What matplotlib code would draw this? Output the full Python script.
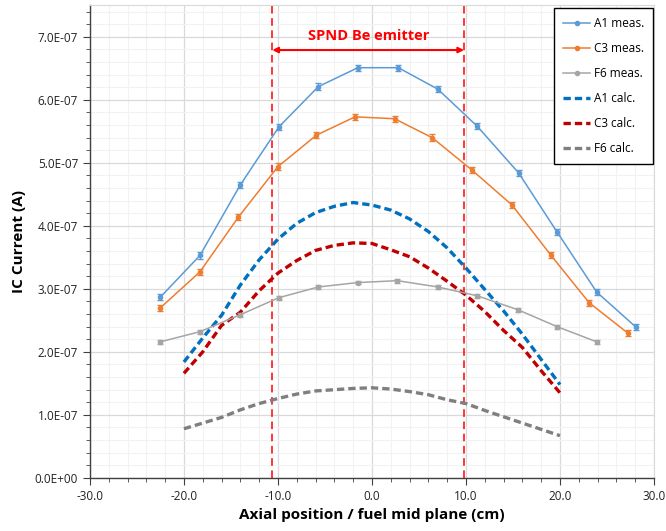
import numpy as np
import matplotlib
matplotlib.use("Agg")
import matplotlib.pyplot as plt
from matplotlib.lines import Line2D
from matplotlib.ticker import MultipleLocator, FuncFormatter

plt.rcParams["font.family"] = ["Open Sans", "DejaVu Sans"]

# ---------- data (current in units of 1e-7 A) ----------
a1_x = [-22.5, -18.3, -14.0, -9.9, -5.7, -1.5, 2.8, 7.0, 11.2, 15.6, 19.7, 23.9, 28.1]
a1_y = [2.87, 3.53, 4.65, 5.57, 6.21, 6.51, 6.51, 6.17, 5.58, 4.84, 3.90, 2.95, 2.39]

c3_x = [-22.5, -18.3, -14.2, -10.0, -5.9, -1.8, 2.4, 6.4, 10.6, 14.9, 19.0, 23.1, 27.2]
c3_y = [2.70, 3.27, 4.14, 4.94, 5.44, 5.73, 5.70, 5.40, 4.89, 4.33, 3.54, 2.78, 2.30]

f6_x = [-22.5, -18.3, -14.0, -9.9, -5.7, -1.5, 2.7, 7.0, 11.2, 15.5, 19.7, 23.9]
f6_y = [2.16, 2.32, 2.59, 2.86, 3.03, 3.10, 3.13, 3.03, 2.89, 2.67, 2.40, 2.16]

calc_x = [-20, -18, -16, -14, -12, -10, -8, -6, -4, -2, 0,
          2, 4, 6, 8, 10, 12, 14, 16, 18, 20]
a1_calc = [1.84, 2.22, 2.58, 3.06, 3.46, 3.79, 4.04, 4.21, 4.31, 4.37, 4.33,
           4.25, 4.11, 3.91, 3.65, 3.33, 2.99, 2.65, 2.28, 1.88, 1.48]
c3_calc = [1.66, 2.00, 2.42, 2.63, 2.97, 3.25, 3.45, 3.61, 3.69, 3.73, 3.72,
           3.62, 3.51, 3.33, 3.12, 2.90, 2.64, 2.34, 2.07, 1.70, 1.35]
f6_calc = [0.78, 0.87, 0.96, 1.08, 1.18, 1.26, 1.33, 1.38, 1.40, 1.42, 1.43,
           1.41, 1.37, 1.32, 1.24, 1.18, 1.07, 0.97, 0.87, 0.77, 0.67]

meas_err = 0.05
f6_err = 0.03
emitter_lo, emitter_hi = -10.6, 9.8

scale = 1e-7


def sc(v):
    return np.array(v) * scale


fig = plt.figure(figsize=(6.66, 5.31), dpi=100)
ax = fig.add_axes([0.135, 0.1, 0.847, 0.89])

# gridlines
ax.xaxis.set_major_locator(MultipleLocator(10))
ax.xaxis.set_minor_locator(MultipleLocator(2))
ax.yaxis.set_major_locator(MultipleLocator(1e-7))
ax.yaxis.set_minor_locator(MultipleLocator(2e-8))
ax.grid(True, which="major", color="#d9d9d9", lw=0.9, zorder=0)
ax.grid(True, which="minor", color="#f2f2f2", lw=0.8, zorder=0)
ax.set_axisbelow(True)

meas = [("A1 meas.", a1_x, a1_y, meas_err, "#5b9bd5"),
        ("C3 meas.", c3_x, c3_y, meas_err, "#ed7d31"),
        ("F6 meas.", f6_x, f6_y, f6_err, "#a5a5a5")]
calc = [("A1 calc.", a1_calc, "#0070c0"),
        ("C3 calc.", c3_calc, "#c00000"),
        ("F6 calc.", f6_calc, "#7f7f7f")]
dash = (0, (2.2, 1.2))

handles = []
for name, xs, ys, err, col in meas:
    ax.errorbar(xs, sc(ys), yerr=err * scale, color=col, lw=1.1, marker="o", ms=3,
                capsize=2, elinewidth=0.9, zorder=4)
    handles.append(Line2D([], [], color=col, lw=1.1, marker="o", ms=3, label=name))
for name, ys, col in calc:
    ax.plot(calc_x, sc(ys), color=col, lw=2.4, ls=dash, zorder=3)
    handles.append(Line2D([], [], color=col, lw=2.4, ls=dash, label=name))

# emitter region
for xv in (emitter_lo, emitter_hi):
    ax.axvline(xv, color="#ff0000", lw=1.1, ls=(0, (5, 3)), zorder=2)
ax.annotate("", xy=(emitter_lo, 6.79e-7), xytext=(emitter_hi, 6.79e-7),
            arrowprops=dict(arrowstyle="<|-|>", color="#ff0000", lw=1.5,
                            mutation_scale=8, shrinkA=0, shrinkB=0))
ax.text((emitter_lo + emitter_hi) / 2, 7.02e-7, "SPND Be emitter", color="#ff0000",
        fontsize=10.5, fontweight="bold", ha="center", va="center")

ax.set_xlim(-30, 30)
ax.set_ylim(0, 7.5e-7)
ax.xaxis.set_major_formatter(FuncFormatter(lambda v, p: f"{v:.1f}"))
ax.yaxis.set_major_formatter(FuncFormatter(
    lambda v, p: "0.0E+00" if v == 0 else "{:.1E}".format(v)))

for s in ("top", "right"):
    ax.spines[s].set_color("#d9d9d9")
for s in ("left", "bottom"):
    ax.spines[s].set_color("#404040")
    ax.spines[s].set_linewidth(1.0)
ax.tick_params(which="both", direction="out", color="#404040", labelsize=8.5,
               labelcolor="#222222")
ax.tick_params(which="major", length=5)
ax.tick_params(which="minor", length=3)

ax.set_xlabel("Axial position / fuel mid plane (cm)", fontsize=11, fontweight="bold", labelpad=4)
ax.set_ylabel("IC Current (A)", fontsize=11, fontweight="bold", labelpad=6)

leg = ax.legend(handles=handles, loc="upper right", bbox_to_anchor=(0.998, 0.994),
                borderaxespad=0.0, fontsize=8.5, frameon=True, fancybox=False,
                edgecolor="black", framealpha=1, labelspacing=1.02,
                handlelength=2.3, handletextpad=0.3, borderpad=0.75)
leg.get_frame().set_linewidth(1.0)

fig.savefig("out.png", dpi=100)
